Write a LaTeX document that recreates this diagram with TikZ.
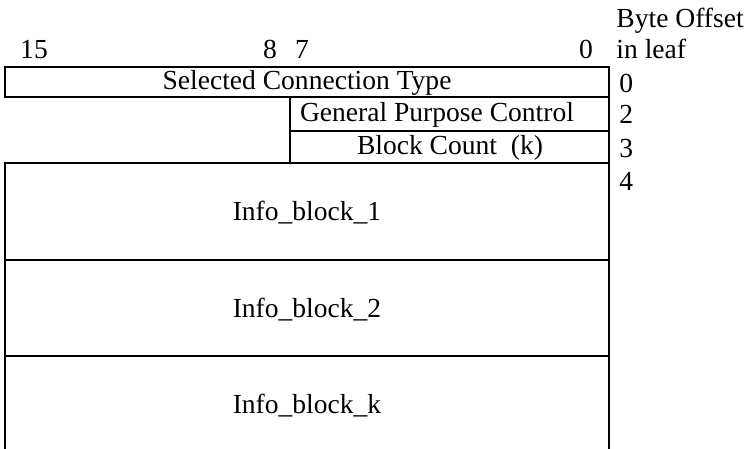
\documentclass[tikz,border=0pt]{standalone}
\usepackage{fontspec}
\setmainfont{Liberation Serif}
\usetikzlibrary{positioning}
\tikzset{
  field/.style={line width=0.9pt},
  lbl/.style={anchor=base, inner sep=0pt, font=\fontsize{12.4}{14}\selectfont},
  offs/.style={lbl, anchor=base west},
}

\begin{document}
\begin{tikzpicture}[x=0.45pt,y=-0.45pt]
\useasboundingbox (0,0) rectangle (748,448);
% bit numbers
\node[lbl] (b15) at (34,58) {15};
\node[lbl] (b8) at (270,58) {8};
\node[lbl] (b7) at (302,58) {7};
\node[lbl] (b0) at (586,58) {0};
\node[offs] (hdr1) at (616,27) {Byte Offset};
\node[offs] (hdr2) at (616,58) {in leaf};
% fields
\draw[field] (5,67) rectangle (609,97);
\draw[field] (290,97) rectangle (609,131);
\draw[field] (290,131) rectangle (609,163);
\draw[field] (5,163) rectangle (609,260);
\draw[field] (5,260) rectangle (609,356);
\draw[field] (5,356) rectangle (609,453);
\node[lbl] (sct) at (307,89) {Selected Connection Type};
\node[lbl] (gpc) at (437,121) {General Purpose Control};
\node[lbl] (cnt) at (450,154) {Block Count\ \ (k)};
\node[lbl] (ib1) at (307,220) {Info\_block\_1};
\node[lbl] (ib2) at (307,317) {Info\_block\_2};
\node[lbl] (ibk) at (307,413) {Info\_block\_k};
% byte offsets
\node[offs] (o0) at (619,92) {0};
\node[offs] (o2) at (619,123) {2};
\node[offs] (o3) at (619,157) {3};
\node[offs] (o4) at (619,190) {4};
\end{tikzpicture}
\end{document}
